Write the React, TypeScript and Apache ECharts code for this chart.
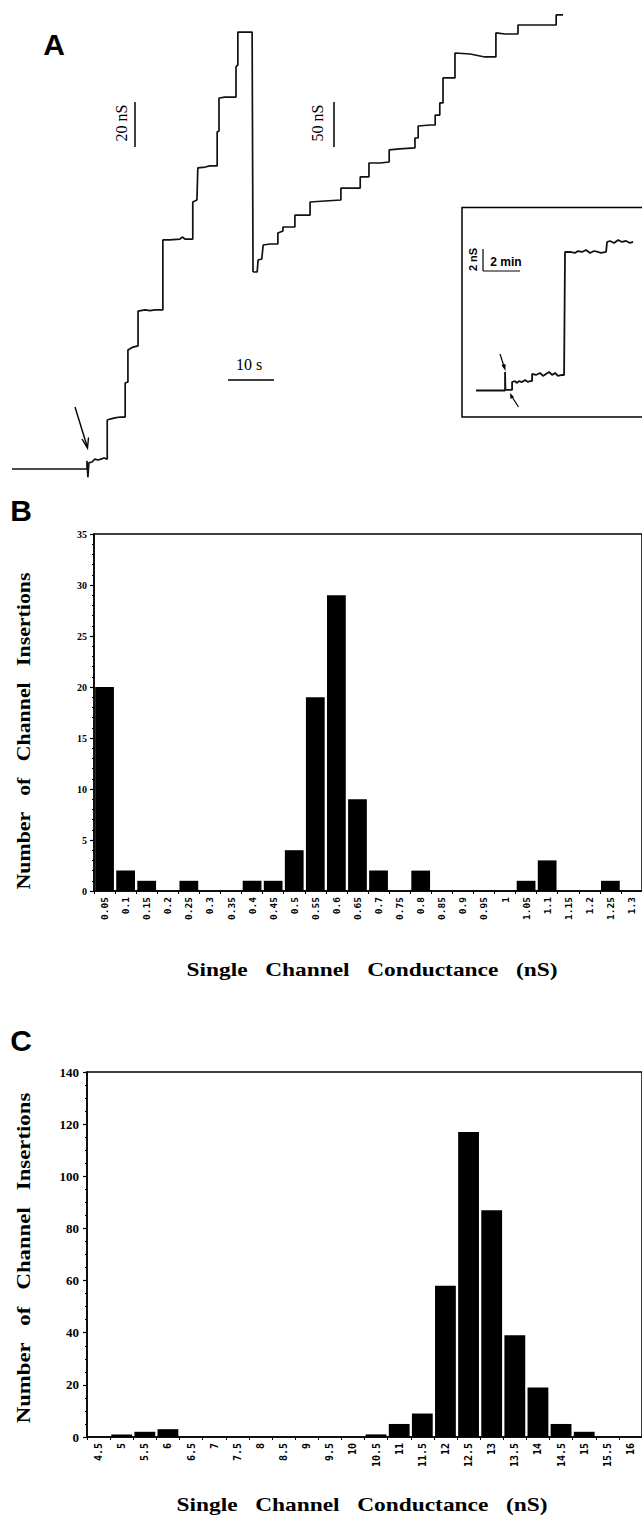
import React, { useEffect, useRef } from 'react';
import * as echarts from 'echarts';

// ---------- Panel A : conductance trace (time in s, conductance in nS) ----------
// first part, 20 nS scale bar
const traceSeg1: [number, number][] = [
  [0, 0], [16.3, 0], [16.3, 3.6], [16.5, -3.6], [16.7, 2.7], [17.4, 3.1], [18.0, 4.4], [18.7, 4.0],
  [19.3, 4.4], [20.0, 4.9], [20.7, 4.4], [20.7, 21.8], [21.3, 22.2], [22.4, 22.7], [23.5, 23.1],
  [24.6, 23.1], [24.6, 38.2], [25.2, 38.7], [25.2, 52.9], [26.3, 54.2], [27.4, 54.7], [27.4, 70.2],
  [28.9, 70.7], [30.0, 70.4], [31.1, 70.7], [32.8, 70.7], [32.8, 101.8], [34.3, 101.8], [36.5, 102.2],
  [37.0, 103.1], [37.6, 102.2], [39.3, 102.2], [39.3, 118.7], [40.2, 119.6], [40.4, 133.8], [42.0, 134.2],
  [43.0, 134.7], [44.6, 134.7], [44.6, 149.8], [45.0, 150.2], [45.0, 164.9], [46.3, 165.3], [47.4, 165.3],
  [48.7, 165.3], [48.7, 178.7], [49.1, 179.6], [49.1, 194.2], [50.7, 194.2], [52.2, 194.2], [52.4, 87.6],
];
// second part, 50 nS scale bar (relative to the reset level)
const traceSeg2: [number, number][] = [
  [52.4, 0], [53.3, 0], [53.5, 13.3], [54.3, 14.4], [54.6, 30], [56.1, 31.1], [57.8, 31.1], [57.8, 43.3],
  [58.9, 45.6], [58.9, 50], [61.5, 50], [61.5, 63.3], [63.7, 63.3], [64.8, 63.3], [64.8, 77.8], [68.0, 78.9],
  [71.5, 80], [71.5, 93.3], [75.7, 93.3], [75.7, 105.6], [77.6, 105.6], [77.6, 121.1], [80.0, 121.1],
  [82.0, 122.2], [82.0, 135.6], [84.3, 136.7], [87.6, 137.8], [87.6, 148.9], [88.3, 148.9], [88.3, 162.2],
  [90.9, 163.3], [92.0, 163.3], [92.0, 174.4], [93.0, 174.4], [93.0, 187.8], [93.7, 187.8], [93.7, 215.6],
  [95.2, 215.6], [96.3, 215.6], [96.3, 243.3], [99.6, 242.2], [102.8, 238.9], [105.0, 238.9], [105.2, 238.9],
  [105.2, 265.6], [107.2, 264.4], [110.0, 264.4], [110.0, 274.4], [113.7, 274.4], [118.0, 274.4],
  [118.3, 274.4], [118.3, 285.6], [119.8, 285.6],
];
// inset trace (time in min, conductance in nS)
const insetTrace: [number, number][] = [
  [0, 0], [1.57, 0], [1.57, 1.68], [1.59, 0.05], [1.68, 0.05], [1.95, 0.05], [1.95, 0.77], [2.11, 0.86],
  [2.22, 0.68], [2.32, 0.86], [2.49, 0.77], [2.65, 0.95], [2.81, 0.77], [2.92, 0.86], [3.03, 0.86],
  [3.03, 1.5], [3.24, 1.41], [3.46, 1.59], [3.62, 1.32], [3.78, 1.5], [3.95, 1.68], [4.11, 1.41],
  [4.27, 1.59], [4.43, 1.32], [4.65, 1.41], [4.76, 1.41], [4.81, 12.59], [5.08, 12.59], [5.35, 12.5],
  [5.51, 12.68], [5.73, 12.59], [5.95, 12.77], [6.16, 12.5], [6.38, 12.68], [6.59, 12.59], [6.76, 12.5],
  [7.03, 12.59], [7.08, 13.5], [7.24, 13.59], [7.46, 13.41], [7.68, 13.68], [7.89, 13.5], [8.11, 13.59],
  [8.32, 13.41], [8.49, 13.5],
];

// ---------- Panel B ----------
const bCategories = ['0.05', '0.1', '0.15', '0.2', '0.25', '0.3', '0.35', '0.4', '0.45', '0.5', '0.55', '0.6', '0.65',
  '0.7', '0.75', '0.8', '0.85', '0.9', '0.95', '1', '1.05', '1.1', '1.15', '1.2', '1.25', '1.3'];
const bCounts = [20, 2, 1, 0, 1, 0, 0, 1, 1, 4, 19, 29, 9, 2, 0, 2, 0, 0, 0, 0, 1, 3, 0, 0, 1, 0];

// ---------- Panel C ----------
const cCategories = ['4.5', '5', '5.5', '6', '6.5', '7', '7.5', '8', '8.5', '9', '9.5', '10', '10.5', '11', '11.5',
  '12', '12.5', '13', '13.5', '14', '14.5', '15', '15.5', '16'];
const cCounts = [0, 1, 2, 3, 0, 0, 0, 0, 0, 0, 0, 0, 1, 5, 9, 58, 117, 87, 39, 19, 5, 2, 0, 0];

const yTitle = 'Number   of   Channel   Insertions';
const xTitle = 'Single   Channel   Conductance   (nS)';

const SERIF = "'Liberation Serif', 'Times New Roman', serif";
const SANS = "'Liberation Sans', Arial, sans-serif";
const MONO = "'DejaVu Sans Mono', monospace";

function txt(text: string, x: number, y: number, font: string, opts: any = {}) {
  return {
    type: 'text', x, y, rotation: opts.rotation || 0, scaleX: opts.scaleX || 1, scaleY: 1,
    style: {
      text, font, fill: '#000',
      align: 'center', verticalAlign: 'middle', textAlign: 'center', textVerticalAlign: 'middle',
    },
  };
}
function seg(x1: number, y1: number, x2: number, y2: number, w = 1.5) {
  return { type: 'line', shape: { x1, y1, x2, y2 }, style: { stroke: '#000', lineWidth: w } };
}

function catX(gridIndex: number, data: string[], fontSize: number) {
  return {
    type: 'category', gridIndex, data,
    axisLine: { show: true, lineStyle: { color: '#000', width: 1.5 } },
    axisTick: { show: true, length: 3, lineStyle: { color: '#000', width: 1 } },
    axisLabel: { interval: 0, rotate: 90, fontFamily: MONO, fontWeight: 'bold', fontSize, color: '#000', margin: 6 },
    splitLine: { show: false },
  };
}
function valY(gridIndex: number, max: number, interval: number, minorSplit: number, fontSize: number, margin: number) {
  return {
    type: 'value', gridIndex, min: 0, max, interval,
    axisLine: { show: true, lineStyle: { color: '#000', width: 1.5 } },
    axisTick: { show: true, length: 4, lineStyle: { color: '#000', width: 1.2 } },
    minorTick: { show: true, splitNumber: minorSplit, length: 2, lineStyle: { color: '#000', width: 1 } },
    splitLine: { show: false },
    axisLabel: { fontFamily: SERIF, fontWeight: 'bold', fontSize, color: '#000', margin },
  };
}

export default function App() {
  const ref = useRef<HTMLDivElement>(null);
  useEffect(() => {
    const chart = echarts.init(ref.current!, null, { renderer: 'svg' });
    const option: any = {
      animation: false,
      backgroundColor: '#fff',
      grid: [
        { left: 0, top: 0, width: 642, height: 490, show: false },
        { left: 476, top: 207, width: 166, height: 210, show: false },
        { left: 94, top: 534, width: 554, height: 357, show: true, borderColor: '#000', borderWidth: 1.5, backgroundColor: 'transparent' },
        { left: 87, top: 1072, width: 562, height: 365, show: true, borderColor: '#000', borderWidth: 1.5, backgroundColor: 'transparent' },
      ],
      xAxis: [
        { type: 'value', gridIndex: 0, min: -2.61, max: 136.96, show: false },
        { type: 'value', gridIndex: 1, min: 0, max: 8.97, show: false },
        catX(2, bCategories, 9.5),
        catX(3, cCategories, 10),
      ],
      yAxis: [
        { type: 'value', gridIndex: 0, min: -9.33, max: 208.44, show: false },
        { type: 'value', gridIndex: 0, min: -242.2, max: 302.2, show: false },
        { type: 'value', gridIndex: 1, min: -2.41, max: 16.68, show: false },
        valY(2, 35, 5, 5, 10, 7),
        valY(3, 140, 20, 4, 13, 8),
      ],
      series: [
        { type: 'line', xAxisIndex: 0, yAxisIndex: 0, data: traceSeg1, symbol: 'none', clip: false, lineStyle: { color: '#111', width: 1.7 } },
        { type: 'line', xAxisIndex: 0, yAxisIndex: 1, data: traceSeg2, symbol: 'none', clip: false, lineStyle: { color: '#111', width: 1.7 } },
        { type: 'line', xAxisIndex: 1, yAxisIndex: 2, data: insetTrace, symbol: 'none', clip: false, lineStyle: { color: '#111', width: 1.8 } },
        { type: 'bar', xAxisIndex: 2, yAxisIndex: 3, data: bCounts, barCategoryGap: '11%', itemStyle: { color: '#000' } },
        { type: 'bar', xAxisIndex: 3, yAxisIndex: 4, data: cCounts, barCategoryGap: '10%', itemStyle: { color: '#000' } },
      ],
      graphic: [
        // panel letters
        txt('A', 54, 44, `bold 30px ${SANS}`),
        txt('B', 21, 510, `bold 30px ${SANS}`),
        txt('C', 21, 1040, `bold 30px ${SANS}`),
        // panel A scale bars
        seg(135, 102, 135, 147),
        txt('20 nS', 121, 123, `16px ${SERIF}`, { rotation: Math.PI / 2 }),
        seg(334, 102, 334, 147),
        txt('50 nS', 317, 123, `16px ${SERIF}`, { rotation: Math.PI / 2 }),
        seg(228, 380, 274, 380),
        txt('10 s', 249, 364, `16px ${SERIF}`),
        // arrow at start
        seg(75, 407, 87, 446, 1.4),
        { type: 'polyline', shape: { points: [[82, 439], [87.5, 448], [88.5, 437.5]] }, style: { stroke: '#000', lineWidth: 1.4, fill: 'none' } },
        // inset box
        { type: 'rect', shape: { x: 462, y: 207.5, width: 200, height: 209.5 }, style: { stroke: '#000', lineWidth: 1.5, fill: 'none' } },
        seg(483, 249, 483, 271, 1.2),
        seg(483, 271, 520, 271, 1.2),
        txt('2 nS', 473, 259.5, `bold 11px ${SANS}`, { rotation: Math.PI / 2 }),
        txt('2 min', 506, 262, `bold 12px ${SANS}`),
        seg(500, 354, 504.5, 368, 1.2),
        { type: 'polygon', shape: { points: [[505.5, 371], [501.5, 365], [505.5, 364]] }, style: { fill: '#000' } },
        seg(518.5, 407, 511.5, 396, 1.2),
        { type: 'polygon', shape: { points: [[510, 393], [510.5, 399], [514, 397]] }, style: { fill: '#000' } },
        // axis titles
        txt(yTitle, 24, 731, `bold 19px ${SERIF}`, { rotation: Math.PI / 2, scaleX: 1.15 }),
        txt(xTitle, 372, 970, `bold 18px ${SERIF}`, { scaleX: 1.3 }),
        txt(yTitle, 24, 1258, `bold 19px ${SERIF}`, { rotation: Math.PI / 2, scaleX: 1.2 }),
        txt(xTitle, 362, 1505, `bold 18px ${SERIF}`, { scaleX: 1.3 }),
      ],
    };
    chart.setOption(option);
    return () => chart.dispose();
  }, []);
  return (
    <div
      ref={ref}
      style={{ position: 'absolute', left: 0, top: 0, width: 642, height: 1518, background: '#fff', overflow: 'hidden' }}
    />
  );
}
